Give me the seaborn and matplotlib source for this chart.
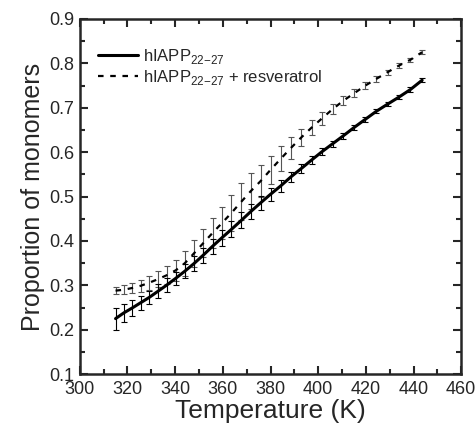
import pandas as pd
import matplotlib.pyplot as plt
import seaborn as sns
from matplotlib.ticker import MultipleLocator

# temperaturas das réplicas (K)
temps = [315.0, 318.5, 322.0, 325.6, 329.2, 332.9, 336.6, 340.3, 344.1, 347.9,
         351.8, 355.7, 359.6, 363.6, 367.7, 371.7, 375.9, 380.0, 384.3, 388.5,
         392.9, 397.2, 401.6, 406.1, 410.6, 415.2, 419.8, 424.4, 429.1, 433.9,
         438.7, 443.6]

# hIAPP22-27 sozinho
mono_pep = [0.225, 0.238, 0.249, 0.261, 0.273, 0.287, 0.301, 0.316, 0.332, 0.349,
            0.368, 0.388, 0.407, 0.426, 0.446, 0.466, 0.486, 0.505, 0.524, 0.544,
            0.563, 0.582, 0.601, 0.619, 0.637, 0.656, 0.674, 0.692, 0.708, 0.724,
            0.741, 0.762]
err_pep = [0.025, 0.020, 0.018, 0.016, 0.015, 0.015, 0.015, 0.015, 0.016, 0.016,
           0.017, 0.017, 0.018, 0.018, 0.018, 0.017, 0.016, 0.015, 0.013, 0.012,
           0.010, 0.009, 0.008, 0.007, 0.007, 0.006, 0.006, 0.005, 0.005, 0.005,
           0.005, 0.005]

# hIAPP22-27 + resveratrol
mono_res = [0.288, 0.290, 0.294, 0.299, 0.306, 0.314, 0.323, 0.334, 0.350, 0.372,
            0.395, 0.418, 0.440, 0.463, 0.488, 0.512, 0.535, 0.560, 0.585, 0.609,
            0.633, 0.655, 0.676, 0.697, 0.716, 0.733, 0.750, 0.765, 0.780, 0.795,
            0.808, 0.825]
err_res = [0.008, 0.010, 0.012, 0.014, 0.016, 0.018, 0.020, 0.024, 0.028, 0.030,
           0.032, 0.034, 0.036, 0.040, 0.042, 0.040, 0.036, 0.032, 0.028, 0.024,
           0.020, 0.017, 0.014, 0.012, 0.010, 0.009, 0.008, 0.007, 0.006, 0.006,
           0.005, 0.005]

df = pd.DataFrame({'T': temps, 'pep': mono_pep, 'res': mono_res})

sns.set_style("ticks")
plt.rcParams['font.family'] = ['Liberation Sans', 'DejaVu Sans']
plt.rcParams['mathtext.fontset'] = 'custom'
plt.rcParams['mathtext.rm'] = 'Liberation Sans'

fig, ax = plt.subplots(figsize=(4.75, 4.3), dpi=100)
fig.subplots_adjust(left=0.168, right=0.971, top=0.956, bottom=0.130)

# barras de erro
ax.errorbar(temps, mono_res, yerr=err_res, fmt='none', ecolor='#555555',
            elinewidth=0.8, capsize=2.5, capthick=0.8, linestyle=':')
ax.errorbar(temps, mono_pep, yerr=err_pep, fmt='none', ecolor='black',
            elinewidth=0.8, capsize=2.5, capthick=0.8)

sns.lineplot(x='T', y='pep', data=df, ax=ax, color='black', linewidth=2.2,
             label=r'hIAPP$_{22\mathrm{-}27}$')
sns.lineplot(x='T', y='res', data=df, ax=ax, color='black', linewidth=1.6,
             linestyle=(0, (2.5, 3)), label=r'hIAPP$_{22\mathrm{-}27}$ + resveratrol')

ax.set_xlim(300, 460)
ax.set_ylim(0.1, 0.9)
ax.xaxis.set_major_locator(MultipleLocator(20))
ax.xaxis.set_minor_locator(MultipleLocator(10))
ax.yaxis.set_major_locator(MultipleLocator(0.1))
ax.yaxis.set_minor_locator(MultipleLocator(0.05))
ax.tick_params(which='both', direction='in', top=True, right=True, width=1.5,
               labelsize=13)
ax.tick_params(axis='x', pad=5)
ax.tick_params(axis='y', pad=4)
ax.tick_params(which='major', length=6)
ax.tick_params(which='minor', length=3.5)
for s in ax.spines.values():
    s.set_linewidth(1.8)

ax.set_xlabel('Temperature (K)', fontsize=19, labelpad=1)
ax.set_ylabel('Proportion of monomers', fontsize=18, labelpad=3)

ax.legend(loc='upper left', bbox_to_anchor=(0.03, 0.94), frameon=False,
          fontsize=12, handlelength=2.4, handletextpad=0.3, labelspacing=0.1,
          borderaxespad=0)

plt.savefig('out.png', dpi=100)
